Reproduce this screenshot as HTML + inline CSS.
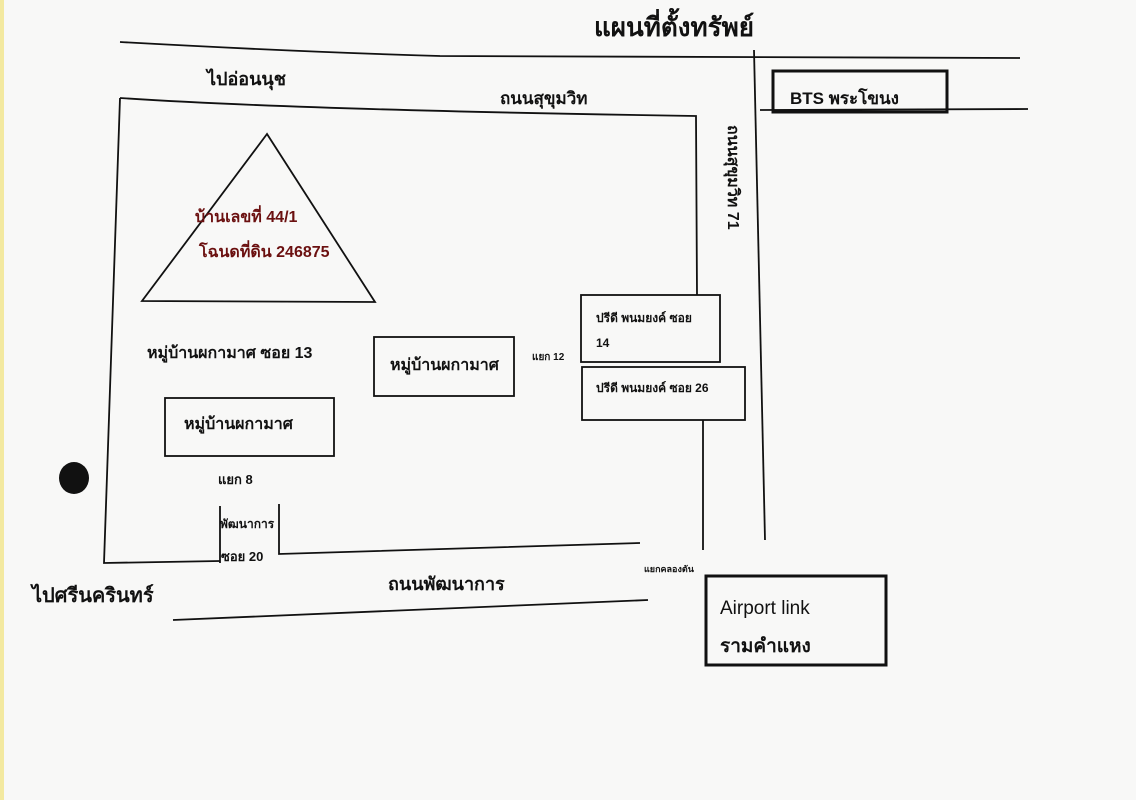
<!DOCTYPE html>
<html><head><meta charset="utf-8"><style>
html,body{margin:0;padding:0;background:#f8f8f7;}
svg{display:block}
text{font-family:"Liberation Sans","Noto Sans CJK SC",sans-serif;fill:#111;}
</style></head><body>
<svg width="1136" height="800" viewBox="0 0 1136 800" xmlns="http://www.w3.org/2000/svg">
<rect width="1136" height="800" fill="#f8f8f7"/>
<rect x="0" y="0" width="4" height="800" fill="#f3e9a0"/>
<g stroke="#111" stroke-width="1.8" fill="none">
<path d="M120 42 Q300 52 440 56 L1020 58"/>
<path d="M754 50 L765 540"/>
<path d="M760 110 L1028 109"/>
<path d="M120 98 Q300 110 696 116 L697 295"/>
<path d="M120 98 L104 563 L220 561"/>
<path d="M220 506 L220 563"/>
<path d="M279 504 L279 554 L640 543"/>
<path d="M703 420 L703 550"/>
<path d="M173 620 L648 600"/>
<path d="M267 134 L142 301 L375 302 Z"/>
<rect x="374" y="337" width="140" height="59"/>
<rect x="165" y="398" width="169" height="58"/>
<rect x="581" y="295" width="139" height="67"/>
<rect x="582" y="367" width="163" height="53"/>
</g>
<rect x="773" y="71" width="174" height="41" fill="none" stroke="#111" stroke-width="3"/>
<rect x="706" y="576" width="180" height="89" fill="none" stroke="#111" stroke-width="3"/>
<ellipse cx="74" cy="478" rx="15" ry="16" fill="#111"/>
<text x="594" y="36" font-size="26" font-weight="bold">แผนที่ตั้งทรัพย์</text>
<text x="207" y="85" font-size="18" font-weight="bold">ไปอ่อนนุช</text>
<text x="500" y="104" font-size="17" font-weight="bold">ถนนสุขุมวิท</text>
<text x="790" y="104" font-size="17" font-weight="bold">BTS พระโขนง</text>
<text transform="translate(728 125) rotate(90)" font-size="16" font-weight="bold">ถนนสุขุมวิท 71</text>
<text x="195" y="222" font-size="16" font-weight="bold" style="fill:#6b1010">บ้านเลขที่ 44/1</text>
<text x="199" y="257" font-size="16" font-weight="bold" style="fill:#6b1010">โฉนดที่ดิน 246875</text>
<text x="147" y="358" font-size="16" font-weight="bold">หมู่บ้านผกามาศ ซอย 13</text>
<text x="390" y="370" font-size="16" font-weight="bold">หมู่บ้านผกามาศ</text>
<text x="184" y="429" font-size="16" font-weight="bold">หมู่บ้านผกามาศ</text>
<text x="532" y="360" font-size="10" font-weight="bold">แยก 12</text>
<text x="596" y="322" font-size="12" font-weight="bold">ปรีดี พนมยงค์ ซอย</text>
<text x="596" y="347" font-size="12" font-weight="bold">14</text>
<text x="596" y="392" font-size="12" font-weight="bold">ปรีดี พนมยงค์ ซอย 26</text>
<text x="218" y="484" font-size="13" font-weight="bold">แยก 8</text>
<text x="220" y="528" font-size="12" font-weight="bold">พัฒนาการ</text>
<text x="221" y="561" font-size="13" font-weight="bold">ซอย 20</text>
<text x="644" y="572" font-size="9" font-weight="bold">แยกคลองตัน</text>
<text x="32" y="602" font-size="20" font-weight="bold">ไปศรีนครินทร์</text>
<text x="388" y="590" font-size="18" font-weight="bold">ถนนพัฒนาการ</text>
<text x="720" y="614" font-size="19">Airport link</text>
<text x="720" y="652" font-size="19" font-weight="bold">รามคำแหง</text>
</svg>
</body></html>
